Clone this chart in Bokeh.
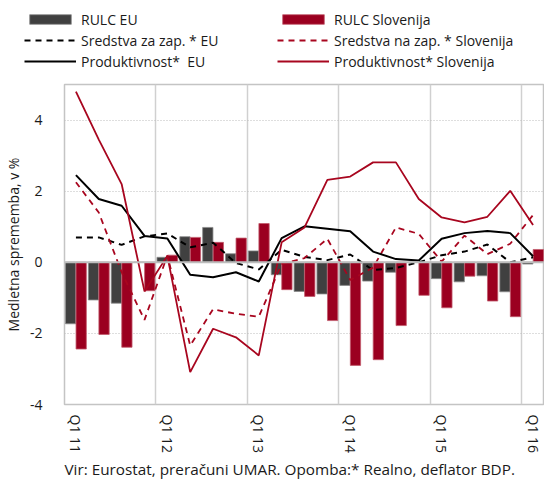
from bokeh.plotting import figure
from bokeh.layouts import column
from bokeh.models import (ColumnDataSource, FixedTicker, Legend, LegendItem, Span,
                          Title, Range1d)
from bokeh.transform import dodge
from bokeh.embed import file_html
from bokeh.resources import INLINE

# ---------------- data ----------------
quarters = ["Q1 11", "Q2 11", "Q3 11", "Q4 11",
            "Q1 12", "Q2 12", "Q3 12", "Q4 12",
            "Q1 13", "Q2 13", "Q3 13", "Q4 13",
            "Q1 14", "Q2 14", "Q3 14", "Q4 14",
            "Q1 15", "Q2 15", "Q3 15", "Q4 15",
            "Q1 16"]
tick_quarters = ["Q1 11", "Q1 12", "Q1 13", "Q1 14", "Q1 15", "Q1 16"]

rulc_eu = [-1.73, -1.06, -1.15, 0.0, 0.14, 0.72, 0.98, 0.24, 0.32, -0.35, -0.82,
           -0.89, -0.65, -0.53, -0.28, 0.0, -0.46, -0.55, -0.38, -0.83, -0.05]
rulc_si = [-2.44, -2.03, -2.39, -0.80, 0.20, 0.70, 0.56, 0.68, 1.09, -0.77, -0.96,
           -1.64, -2.90, -2.74, -1.78, -0.93, -1.28, -0.39, -1.09, -1.53, 0.36]
comp_eu = [0.70, 0.70, 0.49, 0.73, 0.81, 0.42, 0.55, -0.02, -0.20, 0.35, 0.15,
           0.06, 0.22, -0.22, -0.16, 0.0, 0.20, 0.30, 0.50, 0.0, 0.14]
comp_si = [2.25, 1.40, -0.28, -1.62, 0.19, -2.34, -1.32, -1.45, -1.53, -0.05, 0.12,
           0.66, -0.50, -0.15, 0.98, 0.80, 0.02, 0.75, 0.23, 0.52, 1.33]
prod_eu = [2.45, 1.78, 1.59, 0.74, 0.67, -0.35, -0.42, -0.28, -0.54, 0.68, 1.01,
           0.94, 0.87, 0.30, 0.09, 0.05, 0.66, 0.82, 0.88, 0.82, 0.17]
prod_si = [4.80, 3.45, 2.20, -0.82, 0.18, -3.09, -1.87, -2.11, -2.62, 0.56, 0.98,
           2.32, 2.41, 2.81, 2.81, 1.78, 1.26, 1.12, 1.28, 2.01, 1.05]

labels_left = ["RULC EU", "Sredstva za zap. * EU", "Produktivnost*  EU"]
labels_right = ["RULC Slovenija", "Sredstva na zap. * Slovenija", "Produktivnost* Slovenija"]
source_text = "Vir: Eurostat, preračuni UMAR. Opomba:* Realno, deflator BDP."
y_label = "Medletna sprememba, v %"

# ---------------- styling ----------------
FONT = "Open Sans"
GREY_BAR = "#404040"
RED_BAR = "#9b0020"
RED_LINE = "#a8061f"
GRID = "#d0d0d0"
TXT = "#1a1a1a"

bar_eu_style = dict(fill_color=GREY_BAR, line_color="#8a8a8a", line_width=0.8)
bar_si_style = dict(fill_color=RED_BAR, line_color="#c25a6c", line_width=0.8)
ceu_style = dict(line_color="black", line_width=2, line_dash="6 5")
csi_style = dict(line_color=RED_LINE, line_width=1.8, line_dash="6 5")
peu_style = dict(line_color="black", line_width=2)
psi_style = dict(line_color=RED_LINE, line_width=1.8)

x = list(range(len(quarters)))
src = ColumnDataSource(dict(x=x, rulc_eu=rulc_eu, rulc_si=rulc_si, comp_eu=comp_eu,
                            comp_si=comp_si, prod_eu=prod_eu, prod_si=prod_si))

# ---------------- main chart ----------------
p = figure(width=544, height=410, output_backend="svg", toolbar_location=None,
           x_range=Range1d(-0.5, len(quarters) - 0.5), y_range=Range1d(-4, 5),
           min_border_left=55, min_border_right=0, min_border_top=4,
           min_border_bottom=86)
p.frame_align = False
p.background_fill_color = "white"
p.border_fill_color = "white"
p.outline_line_color = "#c4c4c4"
p.outline_line_width = 1.5

p.vbar(x=dodge("x", -0.23, range=p.x_range), top="rulc_eu", width=0.45,
       source=src, **bar_eu_style)
p.vbar(x=dodge("x", 0.23, range=p.x_range), top="rulc_si", width=0.45,
       source=src, **bar_si_style)

p.add_layout(Span(location=0, dimension="width", line_color="#bdbdbd", line_width=2))

p.line("x", "comp_eu", source=src, **ceu_style)
p.line("x", "comp_si", source=src, **csi_style)
p.line("x", "prod_eu", source=src, **peu_style)
p.line("x", "prod_si", source=src, **psi_style)

tick_idx = [quarters.index(q) for q in tick_quarters]
p.xaxis.ticker = FixedTicker(ticks=tick_idx)
p.xaxis.major_label_overrides = {i: quarters[i] for i in tick_idx}
p.xaxis.major_label_orientation = "vertical"
p.xaxis.major_label_standoff = 4
p.xaxis.axis_line_color = None
p.xaxis.major_tick_line_color = None
p.xaxis.minor_tick_line_color = None
p.xaxis.major_label_text_font = FONT
p.xaxis.major_label_text_font_size = "14px"
p.xaxis.major_label_text_color = TXT

yticks = [-4, -2, 0, 2, 4]
p.yaxis.ticker = FixedTicker(ticks=yticks)
p.yaxis.major_label_overrides = {t: str(t) for t in yticks}
p.yaxis.axis_line_color = None
p.yaxis.major_tick_line_color = None
p.yaxis.minor_tick_line_color = None
p.yaxis.major_label_standoff = 16
p.yaxis.major_label_text_font = FONT
p.yaxis.major_label_text_font_size = "14px"
p.yaxis.major_label_text_color = TXT
p.yaxis.axis_label = y_label
p.yaxis.axis_label_standoff = 4
p.yaxis.axis_label_text_font = FONT
p.yaxis.axis_label_text_font_size = "14px"
p.yaxis.axis_label_text_font_style = "normal"
p.yaxis.axis_label_text_color = TXT

p.xgrid.ticker = FixedTicker(ticks=[i - 0.5 for i in tick_idx[1:]])
p.xgrid.grid_line_color = GRID
p.xgrid.grid_line_width = 1.5
p.ygrid.ticker = FixedTicker(ticks=yticks)
p.ygrid.grid_line_color = "#bdbdbd"
p.ygrid.grid_line_dash = "1 2"
p.ygrid.grid_line_width = 1

p.add_layout(Title(text=source_text, align="left", text_font=FONT,
                   text_font_size="15.3px", text_font_style="normal",
                   text_color=TXT, standoff=0), "below")

# ---------------- legend strip (above the chart) ----------------
lf = figure(width=544, height=80, output_backend="svg", toolbar_location=None,
            x_range=Range1d(0, 1), y_range=Range1d(100, 101),
            x_axis_location=None, y_axis_location=None, min_border=0)
lf.frame_align = False
lf.outline_line_color = None
lf.grid.visible = False
lf.background_fill_color = "white"
lf.border_fill_color = "white"

# legend keys: same series and styles, outside this strip's visible range
k_eu = lf.vbar(x="x", top="rulc_eu", width=0.45, source=src, **bar_eu_style)
k_si = lf.vbar(x="x", top="rulc_si", width=0.45, source=src, **bar_si_style)
k_ceu = lf.line("x", "comp_eu", source=src, **ceu_style)
k_csi = lf.line("x", "comp_si", source=src, **csi_style)
k_peu = lf.line("x", "prod_eu", source=src, **peu_style)
k_psi = lf.line("x", "prod_si", source=src, **psi_style)


def make_legend(labels, rends, loc):
    return Legend(items=[LegendItem(label=l, renderers=[r]) for l, r in zip(labels, rends)],
                  location=loc, orientation="vertical",
                  background_fill_alpha=0, border_line_color=None,
                  padding=0, margin=0, spacing=1, glyph_width=52, glyph_height=12,
                  label_height=20, label_standoff=5,
                  label_text_font=FONT, label_text_font_size="14px",
                  label_text_color=TXT)


lf.add_layout(make_legend(labels_left, [k_eu, k_ceu, k_peu], (24, 9)))
lf.add_layout(make_legend(labels_right, [k_si, k_csi, k_psi], (277, 9)))

layout = column(lf, p, spacing=0)
open("out.html", "w").write(file_html(layout, INLINE))
